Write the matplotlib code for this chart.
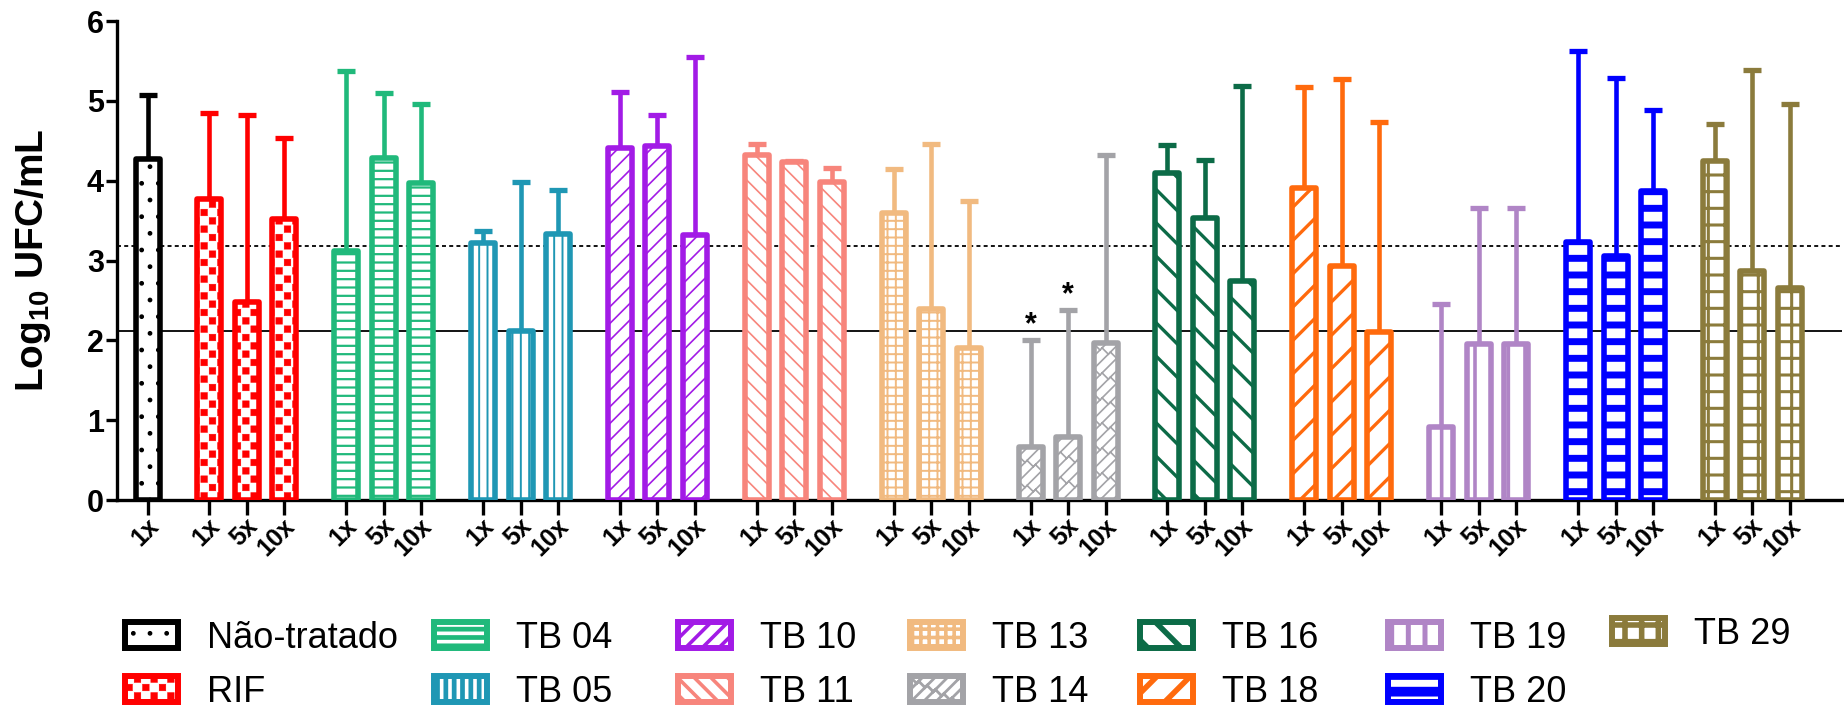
import warnings
import numpy as np
import matplotlib
matplotlib.use("Agg")
import matplotlib as mpl
import matplotlib.pyplot as plt
from matplotlib import hatch as mhatch
from matplotlib.path import Path
from matplotlib.patches import Patch
from matplotlib.transforms import ScaledTranslation

warnings.filterwarnings("ignore", category=mpl.MatplotlibDeprecationWarning)

# ---------------- data ----------------
group_names = ["Não-tratado", "RIF", "TB 04", "TB 05", "TB 10", "TB 11",
               "TB 13", "TB 14", "TB 16", "TB 18", "TB 19", "TB 20", "TB 29"]
ctrl_doses = ["1x"]
doses = ["1x", "5x", "10x"]

mean_ctrl = [4.27]
mean_rif = [3.77, 2.48, 3.52]
mean_tb04 = [3.12, 4.28, 3.97]
mean_tb05 = [3.22, 2.12, 3.33]
mean_tb10 = [4.41, 4.44, 3.32]
mean_tb11 = [4.32, 4.24, 3.98]
mean_tb13 = [3.59, 2.39, 1.90]
mean_tb14 = [0.67, 0.79, 1.97]
mean_tb16 = [4.10, 3.53, 2.74]
mean_tb18 = [3.91, 2.93, 2.11]
mean_tb19 = [0.91, 1.96, 1.96]
mean_tb20 = [3.23, 3.06, 3.87]
mean_tb29 = [4.25, 2.87, 2.66]

sd_ctrl = [0.80]
sd_rif = [1.08, 2.34, 1.02]
sd_tb04 = [2.25, 0.82, 0.99]
sd_tb05 = [0.15, 1.86, 0.55]
sd_tb10 = [0.70, 0.38, 2.23]
sd_tb11 = [0.14, 0.01, 0.18]
sd_tb13 = [0.55, 2.07, 1.84]
sd_tb14 = [1.34, 1.59, 2.35]
sd_tb16 = [0.35, 0.73, 2.44]
sd_tb18 = [1.26, 2.34, 2.62]
sd_tb19 = [1.54, 1.70, 1.70]
sd_tb20 = [2.40, 2.23, 1.02]
sd_tb29 = [0.46, 2.52, 2.30]

stars_tb14 = ["*", "*", ""]

limit_dotted = 3.18
limit_solid = 2.12

# ---------------- styling ----------------
colors = ["#000000", "#FF0000", "#20B97B", "#1F97B4", "#A21BE6", "#F7857C",
          "#F1BA80", "#A3A3A7", "#0C6B47", "#FF6A0D", "#B085C6", "#0000FF",
          "#8B7B3C"]
hatches = [".", "c", "--", "||", "//", "\\\\", "++", "k", "\\", "/", "|", "-", "+"]
hatch_width_bar = [1.0, 0.3, 1.6, 1.4, 1.2, 1.2, 1.4, 1.2, 2.4, 2.4, 2.6, 5.0, 2.2]
hatch_width_key = [1.0, 0.3, 3.4, 3.4, 2.6, 2.6, 2.6, 2.0, 4.0, 4.0, 3.6, 7.0, 4.0]


class CheckerHatch(mhatch.HatchPatternBase):
    """Checkerboard of filled squares, selected with 'c'."""

    def __init__(self, hatch, density):
        n = hatch.count("c") * int(density) * 2
        pts = []
        if n:
            s = 1.0 / n
            e = 0.1 * s
            for r in range(n):
                for c in range(n // 2):
                    x0 = (2 * c + r % 2) * s + e
                    y0 = r * s + e
                    x1, y1 = x0 + s - 2 * e, y0 + s - 2 * e
                    pts += [(x0, y0), (x1, y0), (x1, y1), (x0, y1), (x0, y0)]
        self._pts = pts
        self.num_vertices = len(pts)

    def set_vertices_and_codes(self, vertices, codes):
        vertices[:] = self._pts
        codes[:] = Path.LINETO
        codes[0::5] = Path.MOVETO
        codes[4::5] = Path.CLOSEPOLY


class BrickHatch(mhatch.HatchPatternBase):
    """Diagonal brick courses, selected with 'k'."""

    def __init__(self, hatch, density):
        cnt = hatch.count("k")
        pts = []
        if cnt:
            n, m = 8 * cnt, 6
            h = 0.5 / n
            for k in range(-n - 2, n + 3):
                c = k / n
                pts += [(-0.5, -0.5 + c), (1.5, 1.5 + c)]
                off = 0.5 / m if k % 2 else 0.0
                for j in range(-2, m + 3):
                    t = j / m + off
                    pts += [(t, t + c), (t - h, t + c + h)]
        self._pts = pts
        self.num_vertices = len(pts)

    def set_vertices_and_codes(self, vertices, codes):
        vertices[:] = self._pts
        codes[0::2] = Path.MOVETO
        codes[1::2] = Path.LINETO


mhatch._hatch_types.extend([CheckerHatch, BrickHatch])


def apply_hatch_width(patch, width):
    if hasattr(patch, "set_hatch_linewidth"):
        patch.set_hatch_linewidth(width)
    draw = patch.draw

    def draw_with_width(renderer, _draw=draw, _w=width):
        with mpl.rc_context({"hatch.linewidth": _w}):
            _draw(renderer)

    patch.draw = draw_with_width


plt.rcParams["font.family"] = ["Liberation Sans", "DejaVu Sans"]
plt.rcParams["mathtext.fontset"] = "custom"
plt.rcParams["mathtext.rm"] = "Liberation Sans:bold"
plt.rcParams["mathtext.it"] = "Liberation Sans:bold"
plt.rcParams["mathtext.bf"] = "Liberation Sans:bold"

W, H = 1844, 712
fig = plt.figure(figsize=(W / 100, H / 100), dpi=100)
ax = fig.add_axes([117 / W, 1 - 500 / H, (1842 - 117) / W, (500 - 21) / H])

means = [mean_ctrl, mean_rif, mean_tb04, mean_tb05, mean_tb10, mean_tb11,
         mean_tb13, mean_tb14, mean_tb16, mean_tb18, mean_tb19, mean_tb20,
         mean_tb29]
sds = [sd_ctrl, sd_rif, sd_tb04, sd_tb05, sd_tb10, sd_tb11, sd_tb13, sd_tb14,
       sd_tb16, sd_tb18, sd_tb19, sd_tb20, sd_tb29]
stars = {"TB 14": stars_tb14}

group_gap = 1.64
period = 3.65
bar_width = 0.64

ax.axhline(limit_dotted, color="black", lw=1.3, ls=(0, (2.2, 1.8)), zorder=1)
ax.axhline(limit_solid, color="black", lw=1.3, zorder=1)

tick_pos, tick_lab = [], []
for i, name in enumerate(group_names):
    m = np.asarray(means[i])
    s = np.asarray(sds[i])
    start = 0.0 if i == 0 else group_gap + (i - 1) * period
    xs = start + np.arange(len(m))
    labels = ctrl_doses if i == 0 else doses
    tick_pos += list(xs)
    tick_lab += labels[:len(m)]

    ax.errorbar(xs, m, yerr=[np.zeros_like(s), s], fmt="none",
                ecolor=colors[i], elinewidth=3.3, capsize=6.5, capthick=3.8,
                zorder=2)
    bars = ax.bar(xs, m, width=bar_width, facecolor="white",
                  edgecolor=colors[i], hatch=hatches[i], linewidth=4.0,
                  joinstyle="round", zorder=3)
    for b in bars:
        apply_hatch_width(b, hatch_width_bar[i])

    for x, top, st in zip(xs, m + s, stars.get(name, [])):
        if st:
            ax.annotate(st, xy=(x, top), xytext=(0, 4.5),
                        textcoords="offset points", ha="center",
                        va="baseline", fontsize=22, fontweight="bold",
                        zorder=4)

ax.set_xlim(-0.82, 45.18)
ax.set_ylim(0, 6)
ax.set_yticks(range(0, 7))
ax.set_xticks(tick_pos)
ax.set_xticklabels(tick_lab, rotation=45, ha="right", va="center",
                   rotation_mode="anchor", fontsize=18, fontweight="bold")
for lbl in ax.get_yticklabels():
    lbl.set_fontweight("bold")
    lbl.set_fontsize(22)

ax.tick_params(axis="x", length=11, width=2.4, pad=5)
ax.tick_params(axis="y", length=8, width=2.4, pad=1.5)
for side in ("top", "right"):
    ax.spines[side].set_visible(False)
for side in ("left", "bottom"):
    ax.spines[side].set_linewidth(2.4)

# nudge the slanted dose labels so their ends sit just right of each tick
shift = ScaledTranslation(0.07, 0.0, fig.dpi_scale_trans)
for tick in ax.xaxis.get_major_ticks():
    tick.label1.set_transform(tick.label1.get_transform() + shift)

ax.set_ylabel("Log$_{10}$ UFC/mL", fontsize=28, fontweight="bold")
ax.yaxis.set_label_coords(-0.037, 0.5)

# legend swatches, laid out in seven columns of two rows
key_cols = [121.7, 431, 675, 907, 1137, 1385, 1609]
key_rows = [638, 692]
for i, name in enumerate(group_names):
    col, row = divmod(i, 2)
    y = key_rows[row] - (4 if col == 6 else 0)
    handle = Patch(facecolor="white", edgecolor=colors[i], hatch=hatches[i],
                   linewidth=4.3, joinstyle="round")
    leg = fig.legend(handles=[handle], labels=[name], loc="center left",
                     bbox_to_anchor=((key_cols[col] + 3) / W, 1 - y / H),
                     frameon=False, borderpad=0, borderaxespad=0,
                     handlelength=1.47, handleheight=0.75, handletextpad=0.8,
                     fontsize=26)
    for p in leg.get_patches():
        apply_hatch_width(p, hatch_width_key[i])

fig.savefig("out.png", dpi=100)
